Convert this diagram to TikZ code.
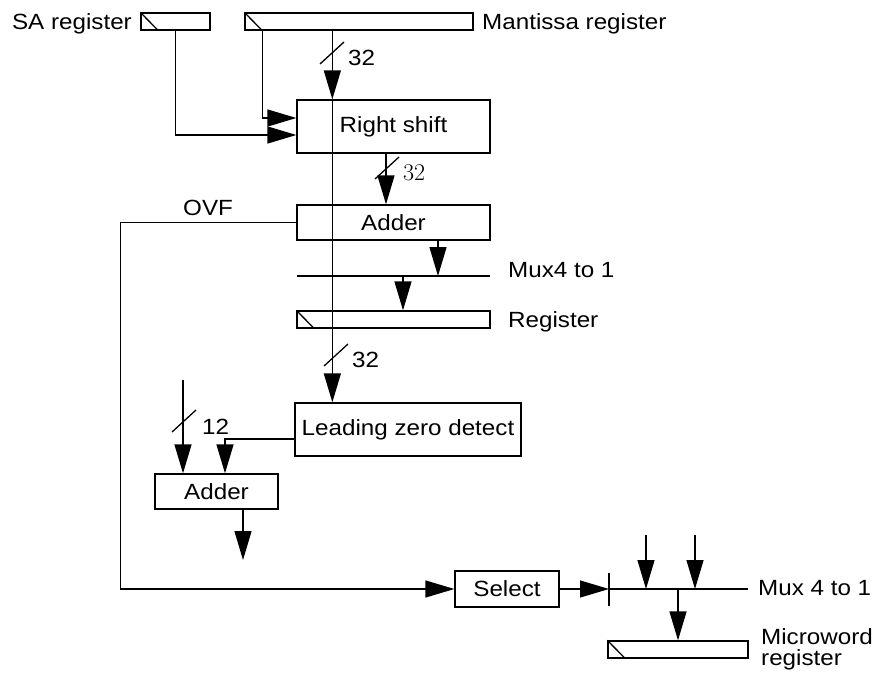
\documentclass[tikz,border=0pt]{standalone}
\usepackage{fontspec}
\setsansfont{Liberation Sans}[FakeStretch=1.1]
\usetikzlibrary{arrows.meta,calc}
\begin{document}
\begin{tikzpicture}[x=1pt,y=-1pt,
  every node/.style={font=\sffamily\fontsize{22}{21}\selectfont, inner sep=0pt},
  box/.style={draw, line width=1.3pt},
  wire/.style={line width=1.3pt},
  arr/.style={wire, -{Triangle[length=29pt,width=17pt]}},
  lbl/.style={anchor=base west},
  serif32/.style={anchor=base west, font=\rmfamily\fontsize{24}{26}\selectfont}]
\useasboundingbox (0,0) rectangle (883,672);

% registers and boxes
\node[box, minimum width=69pt, minimum height=17pt] (sa) at (175.5,21.5) {};
\node[box, minimum width=228pt, minimum height=17pt] (man) at (359,21.5) {};
\node[box, minimum width=193pt, minimum height=53pt] (rs) at (393.5,126.5) {Right shift};
\node[box, minimum width=193pt, minimum height=35pt] (add) at (393.5,222.5) {Adder};
\node[box, minimum width=193pt, minimum height=17pt] (reg) at (393.5,319.5) {};
\node[box, minimum width=226pt, minimum height=53pt] (lzd) at (408,429.5) {Leading zero detect};
\node[box, minimum width=123pt, minimum height=35pt] (ad2) at (216.5,491.5) {Adder};
\node[box, minimum width=104pt, minimum height=36pt] (sel) at (507,589) {Select};
\node[box, minimum width=140pt, minimum height=17pt] (mw) at (678,649.5) {};
\foreach \r in {sa,man,reg,mw} \draw[wire] (\r.north west) -- ([xshift=18pt]\r.south west);

% mux lines
\coordinate (muxL) at (297,276);
\coordinate (muxR) at (490,276);
\draw[wire] (muxL) -- (muxR);
\coordinate (barT) at (609,573);
\coordinate (barB) at (609,606);
\coordinate (bar) at (609,589);
\coordinate (mux2R) at (748,589);
\draw[wire] (barT) -- (barB);
\draw[wire] (bar) -- (mux2R);

% labels
\node[anchor=base east] (salbl) at (132,29) {SA register};
\node[lbl] (manlbl) at (482,29) {Mantissa register};
\node[lbl] (muxlbl) at (508,277) {Mux4 to 1};
\node[lbl] (reglbl) at (508,327) {Register};
\node[lbl] (mux2lbl) at (758,595) {Mux 4 to 1};
\node[anchor=north west, align=left] (mwlbl) at (761,628) {Microword\\register};
\node[lbl] (ovf) at (183,215) {OVF};
\node[lbl] (w1) at (348,65) {32};
\node[serif32] (w2) at (403,180) {32};
\node[lbl] (w3) at (352,367) {32};
\node[lbl] (w4) at (202,434) {12};

% connectors
\draw[arr] (sa.south) |- ([yshift=-8.5pt]rs.west);
\draw[arr] ([xshift=18pt]man.south west) |- ([yshift=8.5pt]rs.west);
\coordinate (m) at ([xshift=88pt]man.south west);
\draw[arr] (m) -- (m |- rs.north);
\draw[arr] (m |- rs.north) -- (m |- lzd.north);
\draw[arr] ([xshift=-7.5pt]rs.south) -- ([xshift=-7.5pt]add.north);
\draw[arr] (add.west) -- ++(-176,0) |- (sel.west);
\coordinate (mx1) at (438,276);
\coordinate (mx2) at (403,276);
\draw[arr] (mx1 |- add.south) -- (mx1);
\draw[arr] (mx2) -- (mx2 |- reg.north);
\draw[arr] ([yshift=-9.5pt]lzd.west) -| ([xshift=8.5pt]ad2.north);
\coordinate (in12) at (183,380);
\draw[arr] (in12) -- (in12 |- ad2.north);
\coordinate (out2) at (243,560);
\draw[arr] (out2 |- ad2.south) -- (out2);
\draw[arr] (sel.east) -- (bar);
\coordinate (i1) at (646,535);
\coordinate (i2) at (695,535);
\draw[arr] (i1) -- (i1 |- bar);
\draw[arr] (i2) -- (i2 |- bar);
\coordinate (mo) at (678,589);
\draw[arr] (mo) -- (mo |- mw.north);

% bus width slashes
\draw[wire] (320,64) -- ++(24,-22);
\draw[wire] (375,179) -- ++(24,-22);
\draw[wire] (324,366) -- ++(24,-22);
\draw[wire] (172,432) -- ++(24,-22);
\end{tikzpicture}
\end{document}
